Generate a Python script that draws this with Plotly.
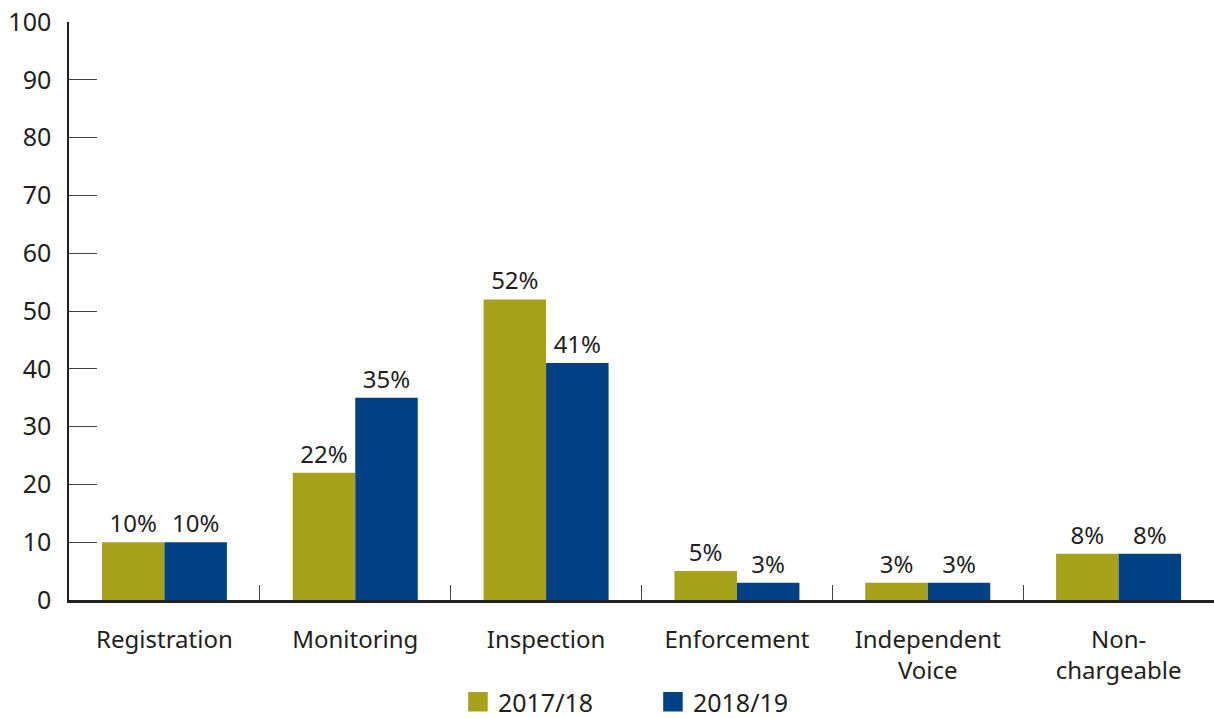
import plotly.graph_objects as go

categories = ["Registration", "Monitoring", "Inspection", "Enforcement",
              "Independent<br>Voice", "Non-<br>chargeable"]
series_names = ["2017/18", "2018/19"]
values_2017 = [10, 22, 52, 5, 3, 8]
values_2018 = [10, 35, 41, 3, 3, 8]
y_ticks = [0, 10, 20, 30, 40, 50, 60, 70, 80, 90, 100]

OLIVE = "rgb(168,161,26)"
BLUE = "rgb(0,65,133)"
TEXT = "#231f20"
FONT = "Noto Sans"

fig = go.Figure()

for name, vals, col in [(series_names[0], values_2017, OLIVE),
                        (series_names[1], values_2018, BLUE)]:
    fig.add_trace(go.Bar(
        x=categories, y=vals, name=name,
        marker=dict(color=col, line=dict(width=0)),
        text=[f"{v}%" for v in vals],
        textposition="outside", constraintext="none", cliponaxis=False,
        textfont=dict(family=FONT, size=24, color=TEXT),
        showlegend=False,
    ))
    # legend swatch (bigger square than the default bar swatch)
    fig.add_trace(go.Scatter(
        x=[None], y=[None], mode="markers", name=name,
        marker=dict(symbol="square", size=16, color=col,
                    line=dict(color=col, width=3.5)),
    ))

fig.update_layout(
    barmode="group", bargap=0.345, bargroupgap=0,
    width=1214, height=718,
    margin=dict(l=69, r=0, t=22, b=118, autoexpand=False),
    plot_bgcolor="white", paper_bgcolor="white",
    font=dict(family=FONT, size=24, color=TEXT),
    legend=dict(orientation="h", x=0.51, xanchor="center", y=-0.1765, yanchor="middle",
                font=dict(family=FONT, size=25, color=TEXT),
                entrywidth=150, tracegroupgap=0),
)

fig.update_yaxes(
    range=[0, 100], tickvals=y_ticks, showgrid=False, zeroline=False,
    automargin=False,
    showline=True, linecolor=TEXT, linewidth=1.5,
    ticks="inside", ticklen=28, tickwidth=1.2, tickcolor="#444",
    ticklabelstandoff=11,
    tickfont=dict(family=FONT, size=25, color=TEXT),
)
fig.update_xaxes(
    showgrid=False, showline=True, linecolor=TEXT, linewidth=2.5,
    automargin=False,
    ticks="inside", tickson="boundaries", ticklen=15, tickwidth=1.2, tickcolor="#444",
    ticklabelstandoff=16,
    tickfont=dict(family=FONT, size=24, color=TEXT),
)

# page body has a default 8px margin; drop it so the figure fills the window
fig.write_html("out.html", config={"displayModeBar": False},
               post_script="document.body.style.margin='0';")
